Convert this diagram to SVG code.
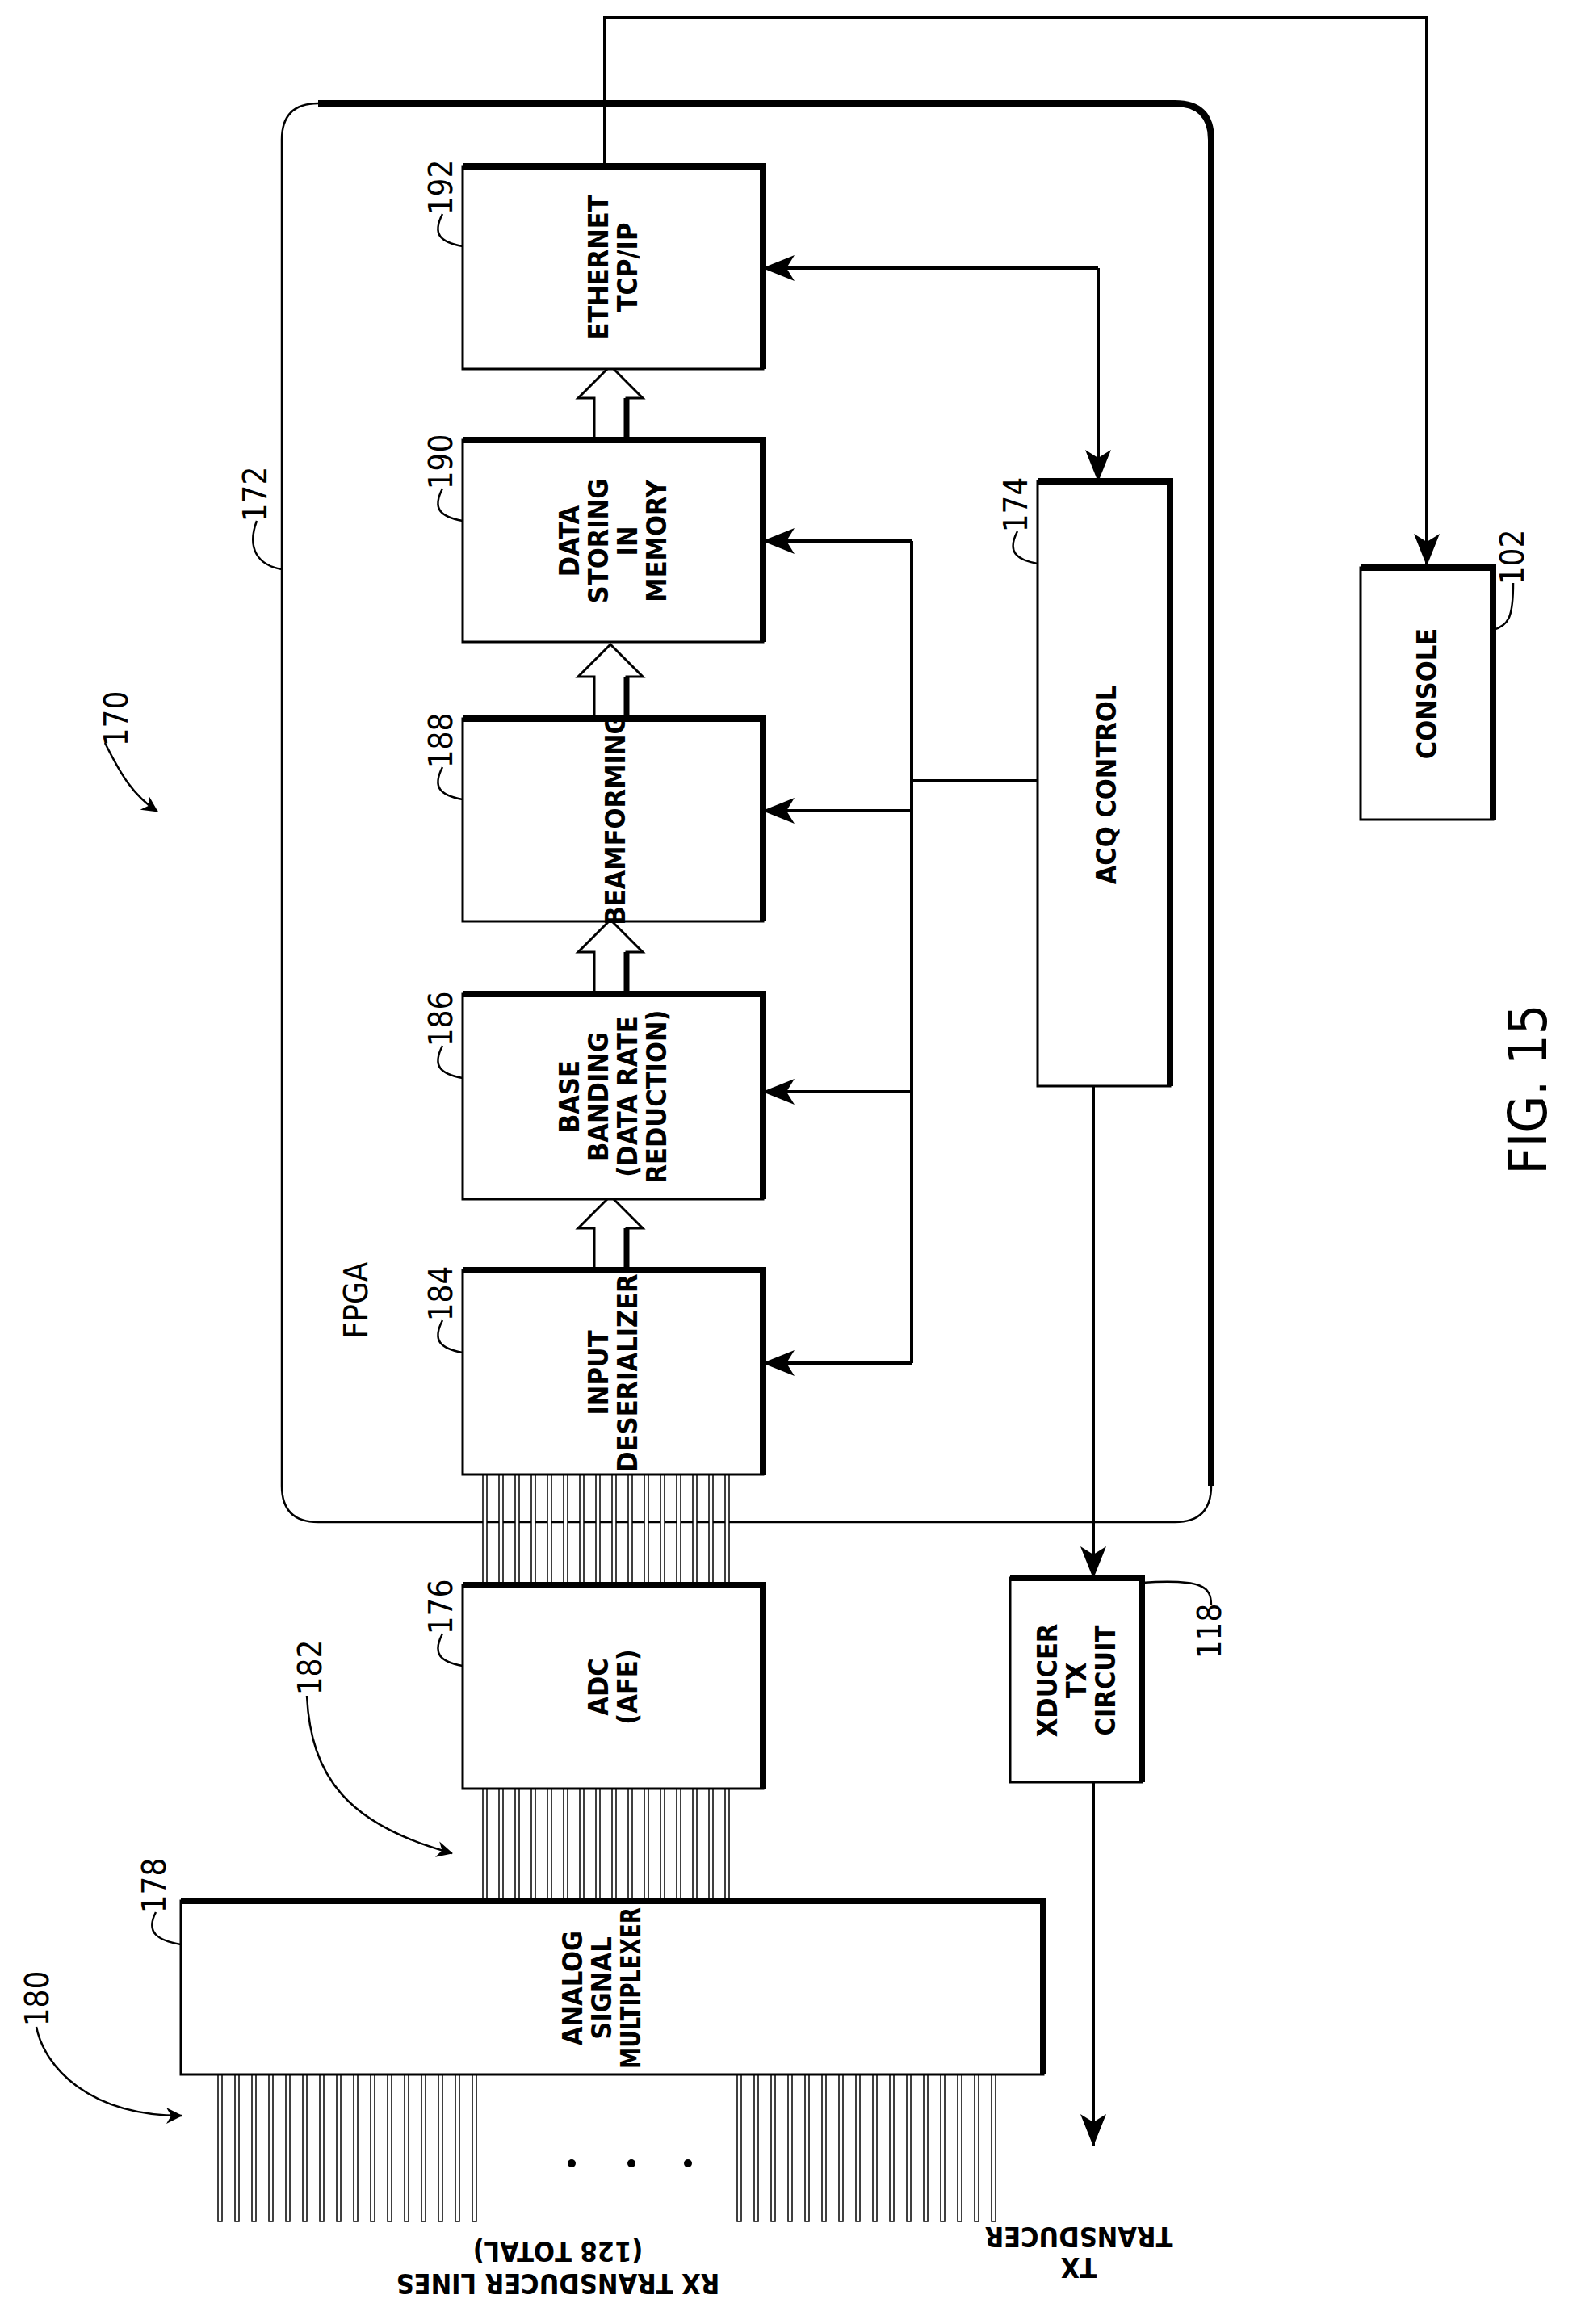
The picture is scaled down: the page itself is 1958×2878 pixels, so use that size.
<svg xmlns="http://www.w3.org/2000/svg" width="1958" height="2878" viewBox="0 0 1958 2878">
<style>
.box{fill:#fff;stroke:#000;stroke-width:3}
.thk{fill:none;stroke:#000;stroke-width:8}
.ln{fill:none;stroke:#000;stroke-width:4}
.thin{fill:none;stroke:#000;stroke-width:2.5}
.pin{fill:#fff;stroke:#000;stroke-width:1.5}
.t{font-family:"DejaVu Sans Condensed","DejaVu Sans",sans-serif;font-weight:bold;font-size:34px;text-anchor:middle;fill:#000}
.n{font-family:"DejaVu Sans Condensed","DejaVu Sans",sans-serif;font-size:40px;text-anchor:middle;fill:#000}
.fig{font-family:"DejaVu Sans Condensed","DejaVu Sans",sans-serif;font-size:66px;text-anchor:middle;fill:#000}
</style>
<defs>
<marker id="ah" viewBox="0 0 20 20" refX="19" refY="10" markerWidth="20" markerHeight="20" markerUnits="userSpaceOnUse" orient="auto"><path d="M0,0 L20,10 L0,20 L6,10 Z" fill="#000"/></marker>
<marker id="ah2" viewBox="0 0 40 40" refX="39" refY="20" markerWidth="40" markerHeight="40" markerUnits="userSpaceOnUse" orient="auto"><path d="M0,4 L40,20 L0,36 L10,20 Z" fill="#000"/></marker>
<path id="hol" d="M-20,0 L-20,-52 L-40,-52 L0,-92 L40,-52 L20,-52 L20,0 Z"/>
</defs>

<g id="fpga">
<path d="M394,128 H1455 Q1500,128 1500,173 V1840 Q1500,1885 1455,1885 H394 Q349,1885 349,1840 V173 Q349,128 394,128 Z" class="thin"/>
<path d="M394,128 H1455 Q1500,128 1500,173 V1840" class="thk" stroke-width="7"/>
<text class="n" transform="translate(455,1610) rotate(-90)">FPGA</text>
</g>

<g id="connectors">
<path class="ln" d="M749,206 V22 H1767 V700" marker-end="url(#ah2)"/>
<path class="ln" d="M1360,332 V596" marker-end="url(#ah2)"/>
<path class="ln" d="M1360,332 H945" marker-end="url(#ah2)"/>
<path class="ln" d="M1129,670 V1688"/>
<path class="ln" d="M1285,967 H1129"/>
<path class="ln" d="M1129,670 H945" marker-end="url(#ah2)"/>
<path class="ln" d="M1129,1004 H945" marker-end="url(#ah2)"/>
<path class="ln" d="M1129,1352 H945" marker-end="url(#ah2)"/>
<path class="ln" d="M1129,1688 H945" marker-end="url(#ah2)"/>
<path class="ln" d="M1354,1345 V1954" marker-end="url(#ah2)"/>
<path class="ln" d="M1354,2207 V2657" marker-end="url(#ah2)"/>
<g fill="#fff" stroke="#000" stroke-width="3">
<use href="#hol" x="756" y="545"/>
<use href="#hol" x="756" y="890"/>
<use href="#hol" x="756" y="1231"/>
<use href="#hol" x="756" y="1573"/>
</g>
<g stroke="#000" stroke-width="7">
<line x1="776" y1="545" x2="776" y2="493"/><line x1="776" y1="890" x2="776" y2="838"/><line x1="776" y1="1231" x2="776" y2="1179"/><line x1="776" y1="1573" x2="776" y2="1521"/>
</g>
<g class="pin">
<rect x="598" y="1826" width="5" height="137"/><rect x="618" y="1826" width="5" height="137"/><rect x="638" y="1826" width="5" height="137"/><rect x="658" y="1826" width="5" height="137"/><rect x="678" y="1826" width="5" height="137"/><rect x="698" y="1826" width="5" height="137"/><rect x="718" y="1826" width="5" height="137"/><rect x="738" y="1826" width="5" height="137"/><rect x="758" y="1826" width="5" height="137"/><rect x="778" y="1826" width="5" height="137"/><rect x="798" y="1826" width="5" height="137"/><rect x="818" y="1826" width="5" height="137"/><rect x="838" y="1826" width="5" height="137"/><rect x="858" y="1826" width="5" height="137"/><rect x="878" y="1826" width="5" height="137"/><rect x="898" y="1826" width="5" height="137"/>
<rect x="598" y="2215" width="5" height="139"/><rect x="618" y="2215" width="5" height="139"/><rect x="638" y="2215" width="5" height="139"/><rect x="658" y="2215" width="5" height="139"/><rect x="678" y="2215" width="5" height="139"/><rect x="698" y="2215" width="5" height="139"/><rect x="718" y="2215" width="5" height="139"/><rect x="738" y="2215" width="5" height="139"/><rect x="758" y="2215" width="5" height="139"/><rect x="778" y="2215" width="5" height="139"/><rect x="798" y="2215" width="5" height="139"/><rect x="818" y="2215" width="5" height="139"/><rect x="838" y="2215" width="5" height="139"/><rect x="858" y="2215" width="5" height="139"/><rect x="878" y="2215" width="5" height="139"/><rect x="898" y="2215" width="5" height="139"/>
<rect x="270" y="2569" width="5" height="182"/><rect x="291" y="2569" width="5" height="182"/><rect x="312" y="2569" width="5" height="182"/><rect x="333" y="2569" width="5" height="182"/><rect x="354" y="2569" width="5" height="182"/><rect x="375" y="2569" width="5" height="182"/><rect x="396" y="2569" width="5" height="182"/><rect x="417" y="2569" width="5" height="182"/><rect x="438" y="2569" width="5" height="182"/><rect x="459" y="2569" width="5" height="182"/><rect x="480" y="2569" width="5" height="182"/><rect x="501" y="2569" width="5" height="182"/><rect x="522" y="2569" width="5" height="182"/><rect x="543" y="2569" width="5" height="182"/><rect x="564" y="2569" width="5" height="182"/><rect x="585" y="2569" width="5" height="182"/>
<rect x="913" y="2569" width="5" height="182"/><rect x="934" y="2569" width="5" height="182"/><rect x="955" y="2569" width="5" height="182"/><rect x="976" y="2569" width="5" height="182"/><rect x="997" y="2569" width="5" height="182"/><rect x="1018" y="2569" width="5" height="182"/><rect x="1039" y="2569" width="5" height="182"/><rect x="1060" y="2569" width="5" height="182"/><rect x="1081" y="2569" width="5" height="182"/><rect x="1102" y="2569" width="5" height="182"/><rect x="1123" y="2569" width="5" height="182"/><rect x="1144" y="2569" width="5" height="182"/><rect x="1165" y="2569" width="5" height="182"/><rect x="1186" y="2569" width="5" height="182"/><rect x="1207" y="2569" width="5" height="182"/><rect x="1228" y="2569" width="5" height="182"/>
</g>
<g fill="#000"><circle cx="708" cy="2679" r="5"/><circle cx="782" cy="2679" r="5"/><circle cx="852" cy="2679" r="5"/></g>
</g>

<g id="n192"><rect class="box" x="573" y="206" width="372" height="251"/><path class="thk" d="M573,206 H945 V457"/>
<text class="t" transform="translate(759,331) rotate(-90)"><tspan x="0" dy="-6">ETHERNET</tspan><tspan x="0" dy="36">TCP/IP</tspan></text></g>
<g id="n190"><rect class="box" x="573" y="545" width="372" height="250"/><path class="thk" d="M573,545 H945 V795"/>
<text class="t" transform="translate(759,670) rotate(-90)"><tspan x="0" dy="-42">DATA</tspan><tspan x="0" dy="36">STORING</tspan><tspan x="0" dy="36">IN</tspan><tspan x="0" dy="36">MEMORY</tspan></text></g>
<g id="n188"><rect class="box" x="573" y="890" width="372" height="251"/><path class="thk" d="M573,890 H945 V1141"/>
<text class="t" transform="translate(762,1015) rotate(-90)"><tspan x="0" dy="12">BEAMFORMING</tspan></text></g>
<g id="n186"><rect class="box" x="573" y="1231" width="372" height="254"/><path class="thk" d="M573,1231 H945 V1485"/>
<text class="t" transform="translate(759,1358) rotate(-90)"><tspan x="0" dy="-42">BASE</tspan><tspan x="0" dy="36">BANDING</tspan><tspan x="0" dy="36">(DATA RATE</tspan><tspan x="0" dy="36">REDUCTION)</tspan></text></g>
<g id="n184"><rect class="box" x="573" y="1573" width="372" height="253"/><path class="thk" d="M573,1573 H945 V1826"/>
<text class="t" transform="translate(759,1700) rotate(-90)"><tspan x="0" dy="-6">INPUT</tspan><tspan x="0" dy="36">DESERIALIZER</tspan></text></g>
<g id="n174"><rect class="box" x="1285" y="596" width="164" height="749"/><path class="thk" d="M1285,596 H1449 V1345"/>
<text class="t" transform="translate(1370,972) rotate(-90)"><tspan x="0" dy="12">ACQ CONTROL</tspan></text></g>
<g id="n102"><rect class="box" x="1685" y="703" width="164" height="312"/><path class="thk" d="M1685,703 H1849 V1015"/>
<text class="t" transform="translate(1767,859) rotate(-90)"><tspan x="0" dy="12">CONSOLE</tspan></text></g>
<g id="n176"><rect class="box" x="573" y="1963" width="372" height="252"/><path class="thk" d="M573,1963 H945 V2215"/>
<text class="t" transform="translate(759,2089) rotate(-90)"><tspan x="0" dy="-6">ADC</tspan><tspan x="0" dy="36">(AFE)</tspan></text></g>
<g id="n178"><rect class="box" x="224" y="2354" width="1068" height="215"/><path class="thk" d="M224,2354 H1292 V2569"/>
<text class="t" transform="translate(745,2462) rotate(-90)"><tspan x="0" dy="-24">ANALOG</tspan><tspan x="0" dy="36">SIGNAL</tspan><tspan x="0" dy="36" textLength="200" lengthAdjust="spacingAndGlyphs">MULTIPLEXER</tspan></text></g>
<g id="n118"><rect class="box" x="1251" y="1954" width="163" height="253"/><path class="thk" d="M1251,1954 H1414 V2207"/>
<text class="t" transform="translate(1333,2081) rotate(-90)"><tspan x="0" dy="-24">XDUCER</tspan><tspan x="0" dy="36">TX</tspan><tspan x="0" dy="36">CIRCUIT</tspan></text></g>

<g id="labels">
<text class="t" transform="translate(1336,2790) rotate(180)"><tspan x="0" dy="-6">TX</tspan><tspan x="0" dy="38">TRANSDUCER</tspan></text>
<text class="t" transform="translate(691,2808) rotate(180)"><tspan x="0" dy="-8">RX TRANSDUCER LINES</tspan><tspan x="0" dy="40">(128 TOTAL)</tspan></text>
<text class="n" transform="translate(560,232) rotate(-90)">192</text><path class="thin" d="M548,265 C535,290 545,300 573,305"/>
<text class="n" transform="translate(560,572) rotate(-90)">190</text><path class="thin" d="M548,605 C535,630 545,640 573,645"/>
<text class="n" transform="translate(560,917) rotate(-90)">188</text><path class="thin" d="M548,950 C535,975 545,985 573,990"/>
<text class="n" transform="translate(560,1262) rotate(-90)">186</text><path class="thin" d="M548,1295 C535,1320 545,1330 573,1335"/>
<text class="n" transform="translate(560,1602) rotate(-90)">184</text><path class="thin" d="M548,1635 C535,1660 545,1670 573,1675"/>
<text class="n" transform="translate(560,1990) rotate(-90)">176</text><path class="thin" d="M548,2023 C535,2048 545,2058 573,2063"/>
<text class="n" transform="translate(205,2335) rotate(-90)">178</text><path class="thin" d="M193,2368 C180,2393 195,2403 224,2408"/>
<text class="n" transform="translate(330,612) rotate(-90)">172</text><path class="thin" d="M318,645 C305,680 320,700 349,705"/>
<text class="n" transform="translate(1272,625) rotate(-90)">174</text><path class="thin" d="M1260,658 C1247,683 1258,693 1285,698"/>
<text class="n" transform="translate(1887,690) rotate(-90)">102</text><path class="thin" d="M1874,722 C1874,765 1868,775 1849,780"/>
<text class="n" transform="translate(1512,2020) rotate(-90)">118</text><path class="thin" d="M1500,1988 C1500,1965 1490,1955 1414,1960" />
<text class="n" transform="translate(158,890) rotate(-90)">170</text><path class="thin" d="M130,920 C150,960 165,985 195,1005" marker-end="url(#ah)"/>
<text class="n" transform="translate(398,2065) rotate(-90)">182</text><path class="thin" d="M380,2100 C385,2200 430,2260 560,2295" marker-end="url(#ah)"/>
<text class="n" transform="translate(60,2475) rotate(-90)">180</text><path class="thin" d="M45,2510 C55,2560 110,2620 225,2620" marker-end="url(#ah)"/>
<text class="fig" transform="translate(1915,1349) rotate(-90)">FIG. 15</text>
</g>
</svg>
